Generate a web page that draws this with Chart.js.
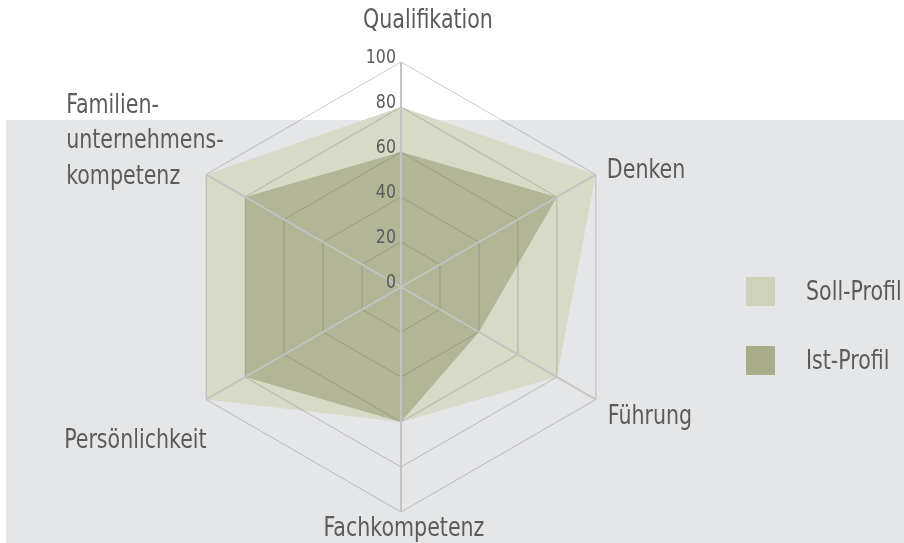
<!DOCTYPE html>
<html>
<head>
<meta charset="utf-8">
<script src="https://cdn.jsdelivr.net/npm/chart.js@4.4.1/dist/chart.umd.min.js"></script>
<style>
  html, body { margin: 0; padding: 0; background: #fff; }
  #wrap { position: relative; width: 904px; height: 543px; overflow: hidden;
          font-family: 'Liberation Sans Narrow', 'DejaVu Sans Condensed', Roboto, sans-serif; }
  #bg { position: absolute; left: 6px; top: 120px; right: 0; bottom: 0; background: #e5e6e8; }
  #chart { position: absolute; left: 0; top: 0; }
  .item { position: absolute; left: 746px; height: 29px; }
  .item .sw { position: absolute; left: 0; top: 0; width: 29px; height: 29px; }
  .item .tx { position: absolute; left: 60px; top: -4px; font-size: 26px; line-height: 36px; color: #5b5b5b;
              white-space: nowrap; transform: scaleX(0.88); transform-origin: left center; }
</style>
</head>
<body>
<div id="wrap">
  <div id="bg"></div>
  <canvas id="chart" width="904" height="543"></canvas>
  <div id="legend"></div>
</div>
<script>
// axis categories (clockwise from top)
const categories = ['Qualifikation', 'Denken', 'Führung', 'Fachkompetenz', 'Persönlichkeit',
  ['Familien-', 'unternehmens-', 'kompetenz']];
const sollProfil = [80, 100, 80, 60, 100, 100];
const istProfil = [60, 80, 40, 60, 80, 80];
const tickValues = [0, 20, 40, 60, 80, 100];
const seriesNames = ['Soll-Profil', 'Ist-Profil'];

const fontFamily = "'Liberation Sans Narrow', 'DejaVu Sans Condensed', Roboto, sans-serif";
const textColor = '#5b5b5b';
const squeeze = 0.88; // the original uses a condensed face

// where each axis label sits relative to its outer vertex
const labelPlacement = [
  { align: 'center', dx: 27, dy: -34 },
  { align: 'left', dx: 11, dy: 3 },
  { align: 'left', dx: 12, dy: 24 },
  { align: 'center', dx: 3, dy: 24 },
  { align: 'left', dx: -142, dy: 48 },
  { align: 'left', dx: -140, dy: -62 }
];

function squeezedText(ctx, text, x, y) {
  ctx.save();
  ctx.translate(x, y);
  ctx.scale(squeeze, 1);
  ctx.fillText(text, 0, 0);
  ctx.restore();
}

// tick numbers and axis labels drawn by hand so they sit like the original
const labelPlugin = {
  id: 'radarLabels',
  afterDraw(chart) {
    const scale = chart.scales.r;
    const ctx = chart.ctx;
    ctx.save();
    ctx.fillStyle = textColor;

    ctx.font = '20px ' + fontFamily;
    ctx.textAlign = 'right';
    ctx.textBaseline = 'alphabetic';
    tickValues.forEach(v => {
      const d = scale.getDistanceFromCenterForValue(v);
      squeezedText(ctx, String(v), scale.xCenter - 5, scale.yCenter - d + 1);
    });

    ctx.font = '26px ' + fontFamily;
    categories.forEach((label, i) => {
      const p = scale.getPointPosition(i, scale.drawingArea);
      const pl = labelPlacement[i];
      const lines = Array.isArray(label) ? label : [label];
      ctx.textAlign = pl.align;
      lines.forEach((line, j) => {
        squeezedText(ctx, line, p.x + pl.dx, p.y + pl.dy + j * 35.5);
      });
    });
    ctx.restore();
  }
};

const ctx = document.getElementById('chart').getContext('2d');
new Chart(ctx, {
  type: 'radar',
  data: {
    labels: categories,
    datasets: [
      {
        label: seriesNames[1],
        data: istProfil,
        backgroundColor: '#b2b596',
        borderWidth: 0,
        pointRadius: 0,
        fill: true
      },
      {
        label: seriesNames[0],
        data: sollProfil,
        backgroundColor: '#d7dac7',
        borderWidth: 0,
        pointRadius: 0,
        fill: true
      }
    ]
  },
  options: {
    responsive: false,
    animation: false,
    layout: { padding: { left: 176, right: 278, top: 62, bottom: 31 } },
    plugins: {
      legend: { display: false },
      tooltip: { enabled: false }
    },
    scales: {
      r: {
        min: 0,
        max: 100,
        ticks: { display: false, stepSize: 20, z: 1 },
        pointLabels: { display: false },
        // grid on top of the filled areas, like the original
        grid: { color: 'rgba(105,105,105,0.35)', lineWidth: 1, z: 1 },
        angleLines: { color: '#c3c3c3', lineWidth: 2 }
      }
    }
  },
  plugins: [labelPlugin]
});

// legend on the right
const legendColors = ['#cfd2bb', '#a9ac88'];
const legend = document.getElementById('legend');
seriesNames.forEach((name, i) => {
  const item = document.createElement('div');
  item.className = 'item';
  item.style.top = (277 + i * 69) + 'px';
  item.innerHTML = '<div class="sw" style="background:' + legendColors[i] + '"></div><div class="tx">' + name + '</div>';
  legend.appendChild(item);
});
</script>
</body>
</html>
